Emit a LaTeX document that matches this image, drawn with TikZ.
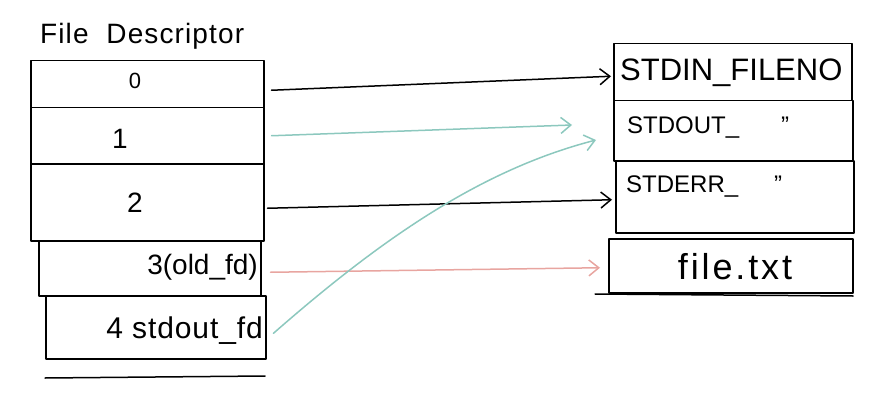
\documentclass[tikz,border=0pt]{standalone}
\usepackage{fontspec}
\setmainfont{Liberation Sans}
\usetikzlibrary{arrows.meta,positioning}
\definecolor{tealink}{RGB}{140,200,190}
\definecolor{pinkink}{RGB}{232,165,160}
\tikzset{
  ink/.style={line width=1.5pt, line cap=round, line join=round},
  cell/.style={ink, draw, rectangle, inner sep=0pt},
  lbl/.style={font=\fontsize{24}{26}\selectfont, inner sep=0pt},
  conn/.style={ink, -{Straight Barb[length=10pt,width=16pt,line width=1.5pt]}},
}
\begin{document}
\begin{tikzpicture}[x=1pt,y=-1pt]
\useasboundingbox (0,0) rectangle (885,409);
% left table
\node[lbl, anchor=base west, font=\fontsize{28}{30}\selectfont\addfontfeature{LetterSpace=4}] (title) at (40,44) {File\ \ Descriptor};
\node[cell, minimum width=233pt, minimum height=47pt, anchor=north west] (r0) at (30,60) {};
\node[cell, minimum width=233pt, minimum height=56pt, anchor=north west] (r1) at (30,107) {};
\node[cell, minimum width=233pt, minimum height=77pt, anchor=north west] (r2) at (30,163) {};
\node[cell, minimum width=222pt, minimum height=55pt, anchor=north west] (r3) at (38,240) {};
\node[cell, minimum width=220pt, minimum height=63pt, anchor=north west] (r4) at (45,295) {};
\coordinate (bl) at (45,378);
\coordinate (br) at (265,376);
\draw[ink] (bl) -- (br);
\node[lbl, font=\fontsize{22}{24}\selectfont] (l0) at (135,81) {0};
\node[lbl, font=\fontsize{28}{30}\selectfont] (l1) at (120,139) {1};
\node[lbl, font=\fontsize{28}{30}\selectfont] (l2) at (135,203) {2};
\node[lbl, anchor=east, font=\fontsize{28}{30}\selectfont] (l3) at (258,267) {3(old\_fd)};
\node[lbl, anchor=east, font=\fontsize{30}{32}\selectfont\addfontfeature{LetterSpace=3}] (l4) at (263,331) {4 stdout\_fd};
% right table
\node[cell, minimum width=238pt, minimum height=57pt, anchor=north west] (s0) at (613,43) {};
\node[cell, minimum width=239pt, minimum height=60pt, anchor=north west] (s1) at (613,100) {};
\node[cell, minimum width=238pt, minimum height=72pt, anchor=north west] (s2) at (615,160) {};
\node[cell, minimum width=244pt, minimum height=54pt, anchor=north west] (f) at (608,238) {};
\coordinate (fl) at (595,294);
\coordinate (fr) at (853,296);
\draw[ink] (fl) -- (fr);
\node[lbl, anchor=west, font=\fontsize{31}{33}\selectfont] (t0) at (620,73) {STDIN\_FILENO};
\node[lbl, anchor=west, font=\fontsize{24}{26}\selectfont] (t1) at (627,128) {STDOUT\_\hspace{42pt}''};
\node[lbl, anchor=west, font=\fontsize{24}{26}\selectfont] (t2) at (626,187) {STDERR\_\hspace{36pt}''};
\node[lbl, font=\fontsize{36}{40}\selectfont\addfontfeature{LetterSpace=8}] (t3) at (735,267) {file.txt};
% connectors
\coordinate (e1) at (572,125);
\coordinate (e4) at (596,140);
\draw[conn] ([xshift=7pt,yshift=-6pt]r0.east) -- ([xshift=-2pt,yshift=-4pt]s0.west);
\draw[conn, tealink] ([xshift=7pt]r1.east) -- (e1);
\draw[conn] ([xshift=3pt,yshift=-6pt]r2.east) -- ([xshift=-3pt,yshift=-3pt]s2.west);
\draw[conn, pinkink] ([xshift=9pt,yshift=-4pt]r3.east) -- ([xshift=-8pt,yshift=-2pt]f.west);
\draw[conn, tealink] ([xshift=7pt,yshift=-6pt]r4.east) .. controls (380,240) and (480,170) .. (e4);
\end{tikzpicture}
\end{document}
